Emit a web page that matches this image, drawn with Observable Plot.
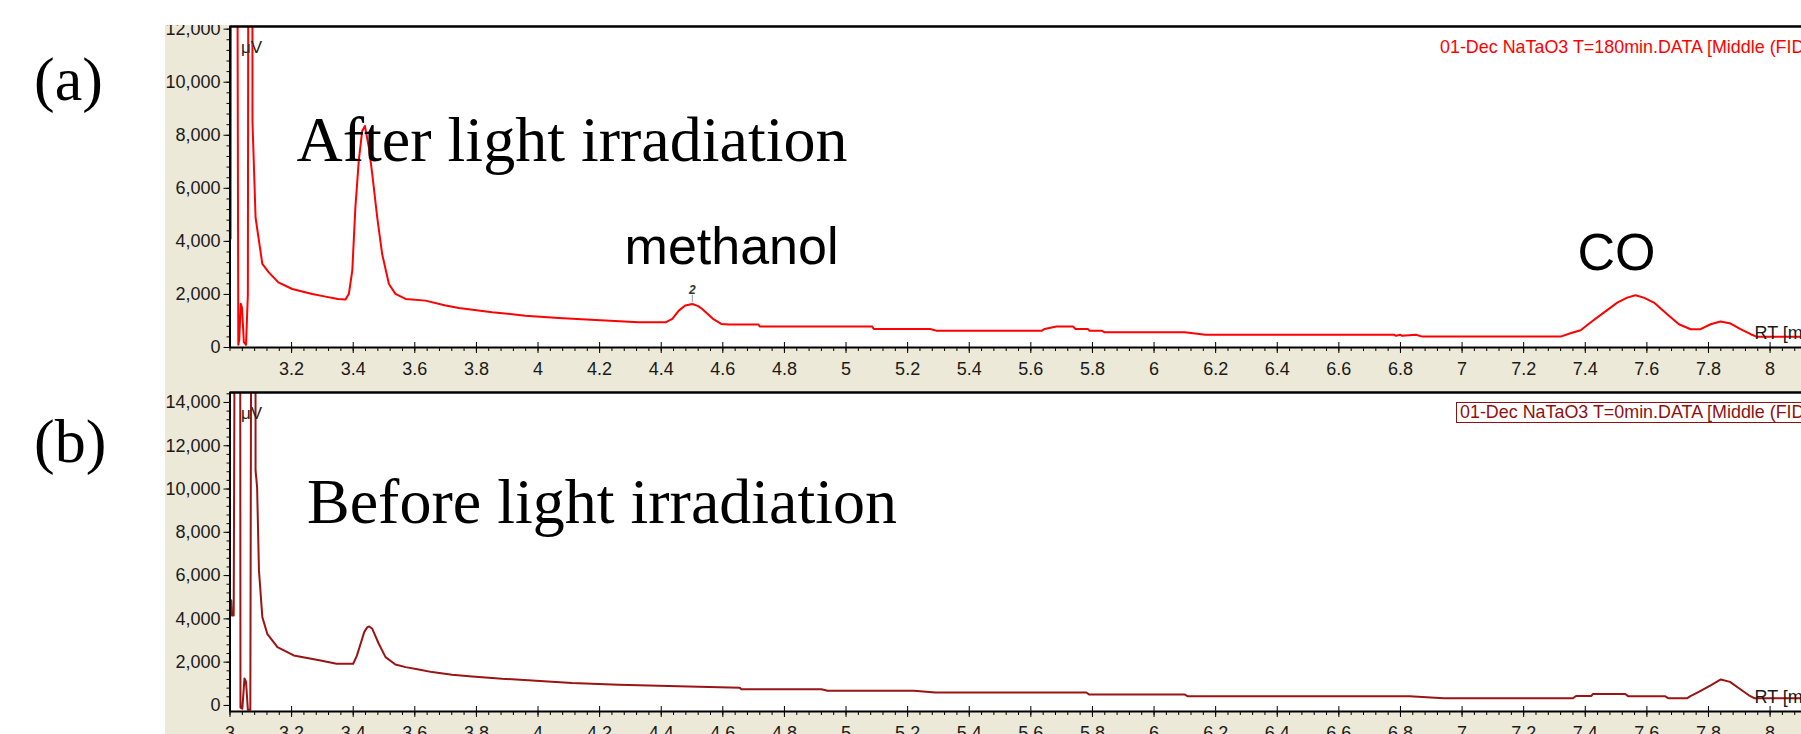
<!DOCTYPE html>
<html><head><meta charset="utf-8">
<script src="https://cdn.jsdelivr.net/npm/d3@7"></script>
<script src="https://cdn.jsdelivr.net/npm/@observablehq/plot@0.6"></script>
<style>
html,body{margin:0;padding:0;background:#fff;}
#wrap{position:relative;width:1801px;height:734px;overflow:hidden;background:#fff;}
#wrap svg{position:absolute;overflow:hidden;}
.panel{position:absolute;font-family:"Liberation Serif","Times New Roman",serif;font-size:62px;line-height:62px;color:#000;}
.file{position:absolute;white-space:nowrap;font-family:"Liberation Sans",Arial,sans-serif;font-size:17.9px;line-height:19px;}
</style></head><body><div id="wrap"></div>
<script>
// ---- data ----
// (a) after light irradiation, T=180 min
const timeA = [3.000,3.002,3.005,3.019,3.027,3.030,3.035,3.039,3.045,3.052,3.058,3.062,3.071,3.073,3.083,3.094,3.105,3.126,3.157,3.202,3.267,3.310,3.350,3.375,3.386,3.397,3.407,3.418,3.429,3.438,3.451,3.462,3.478,3.494,3.516,3.537,3.570,3.635,3.700,3.743,3.851,3.959,4.067,4.187,4.327,4.414,4.436,4.457,4.478,4.501,4.520,4.533,4.568,4.595,4.620,4.716,4.720,5.085,5.090,5.273,5.293,5.636,5.645,5.683,5.737,5.745,5.785,5.790,5.830,5.840,6.100,6.167,6.780,6.785,6.800,6.805,6.850,6.871,7.320,7.352,7.385,7.417,7.460,7.504,7.536,7.563,7.590,7.623,7.666,7.704,7.742,7.774,7.807,7.839,7.872,7.904,7.937,7.958,8.200];
const signalA = [7300,4100,40000,40000,100,300,1650,1500,200,100,2000,40000,40000,8500,4900,4020,3150,2830,2455,2205,2020,1917,1830,1805,2030,2895,5270,7030,8160,8350,7530,6530,4900,3520,2395,2020,1830,1767,1580,1490,1330,1200,1115,1040,950,950,1080,1390,1580,1640,1560,1450,1080,890,865,865,790,790,700,700,635,635,700,790,790,700,700,635,635,572,572,480,480,440,480,440,480,410,410,539,652,940,1316,1692,1880,1967,1880,1692,1253,877,689,689,877,977,902,689,501,401,401];
// (b) before light irradiation, T=0 min
const timeB = [3.000,3.004,3.006,3.012,3.020,3.032,3.034,3.040,3.047,3.052,3.058,3.066,3.072,3.082,3.083,3.088,3.094,3.105,3.121,3.154,3.207,3.294,3.346,3.400,3.412,3.424,3.436,3.446,3.452,3.462,3.483,3.505,3.537,3.570,3.613,3.656,3.721,3.786,3.883,3.981,4.110,4.262,4.489,4.655,4.660,4.920,4.940,5.220,5.290,5.780,5.790,6.100,6.110,6.830,6.940,7.360,7.370,7.420,7.425,7.530,7.540,7.660,7.670,7.730,7.740,7.770,7.810,7.840,7.870,7.900,7.930,7.950,8.200];
const signalB = [4900,4850,4160,4160,40000,40000,-100,-150,1250,1100,-200,-200,40000,40000,10860,10090,6240,4080,3310,2690,2310,2080,1925,1925,2300,2850,3400,3620,3650,3540,2850,2233,1894,1771,1663,1540,1417,1340,1232,1155,1032,955,878,820,750,750,680,680,600,600,500,500,420,420,330,330,440,440,530,530,420,420,330,330,420,640,950,1200,1090,780,480,330,330];

// tick values and labels
const yTicksA = [0,2000,4000,6000,8000,10000,12000];
const yTicksB = [0,2000,4000,6000,8000,10000,12000,14000];
const xTicks = [3,3.2,3.4,3.6,3.8,4,4.2,4.4,4.6,4.8,5,5.2,5.4,5.6,5.8,6,6.2,6.4,6.6,6.8,7,7.2,7.4,7.6,7.8,8];
const fileA = "01-Dec NaTaO3 T=180min.DATA [Middle (FID)]";
const fileB = "01-Dec NaTaO3 T=0min.DATA [Middle (FID)]";
const annotationsA = [
  {t: 3.216, v: 7030, text: "After light irradiation", font: "Liberation Serif", size: 64},
  {t: 4.281, v: 3160, text: "methanol", font: "Liberation Sans", size: 52},
  {t: 7.375, v: 2930, text: "CO", font: "Liberation Sans", size: 52}
];
const annotationsB = [
  {t: 3.25, v: 8410, text: "Before light irradiation", font: "Liberation Serif", size: 64}
];
// integration marker over the methanol peak
const peakMarks = [{t: 4.501, v1: 1700, v2: 1980, label: "2"}];

const dataA = timeA.map((t, i) => ({t, v: signalA[i]}));
const dataB = timeB.map((t, i) => ({t, v: signalB[i]}));

const xDomain = [3, 8.102];
const yDomainA = [0, 12100];
const yDomainB = [-280, 14460];
const beige = "#ECE9D8";
const fmt = d3.format(",");

function minor(lo, hi, step) { return d3.range(Math.round(lo/step), Math.round(hi/step) + 1).map(i => +(i*step).toFixed(4)); }

function panel({data, yDomain, yTicks, yMinorStep, height, marginTop, marginBottom, xLabelTicks, stroke, annotations, markers}) {
  const marks = [
    Plot.frame({fill: "white", stroke: null}),
    Plot.axisY({ticks: minor(0, yDomain[1], yMinorStep).filter(d => d <= yDomain[1]), tickSize: 3, tickFormat: () => "", label: null, stroke: "#000"}),
    Plot.axisY({ticks: yTicks, tickSize: 6, tickPadding: 3.5, tickFormat: fmt, label: null, fontSize: 18, stroke: "#000", fill: "#1a1a1a"}),
    Plot.axisX({ticks: minor(3, 8.1, 0.04), tickSize: 4, tickFormat: () => "", label: null, stroke: "#000"}),
    Plot.axisX({ticks: xLabelTicks, tickSize: 6, tickPadding: 9, tickFormat: d => String(d), label: null, fontSize: 18, stroke: "#000", fill: "#1a1a1a"}),
    Plot.axisX({ticks: xTicks, tickSize: -5, tickFormat: () => "", label: null, stroke: "#000"}),
    Plot.ruleX(markers, {x: "t", y1: "v1", y2: "v2", stroke: "#999", strokeWidth: 1}),
    Plot.text(markers, {x: "t", y: "v2", text: "label", lineAnchor: "bottom", dy: -1, fontSize: 12, fontWeight: "bold", fontStyle: "italic", fill: "#333"}),
    Plot.line(data, {x: "t", y: "v", stroke, strokeWidth: 2, clip: true}),
    Plot.ruleY([yDomain[1]], {stroke: "#000", strokeWidth: 2.5}),
    Plot.ruleY([yDomain[0]], {stroke: "#000", strokeWidth: 2}),
    Plot.ruleX([xDomain[0]], {stroke: "#000", strokeWidth: 2}),
    Plot.text(["μV"], {frameAnchor: "top-left", dx: 11, dy: 14, lineAnchor: "top", textAnchor: "start", fontSize: 17, fill: "#222"}),
    Plot.text(["RT [min]"], {frameAnchor: "bottom-right", dx: -47, dy: -9, lineAnchor: "bottom", textAnchor: "start", fontSize: 18, fill: "#1a1a1a"})
  ];
  for (const a of annotations) {
    marks.push(Plot.text([a], {x: "t", y: "v", text: "text", textAnchor: "start", lineAnchor: "bottom", fontFamily: a.font, fontSize: a.size, fill: "#000"}));
  }
  return Plot.plot({
    width: 1636, height, marginLeft: 64.5, marginRight: 0, marginTop, marginBottom,
    style: {background: beige, fontFamily: "'Liberation Sans', Arial, sans-serif", fontSize: "18px", overflow: "hidden"},
    x: {domain: xDomain},
    y: {domain: yDomain},
    marks
  });
}

const wrap = document.getElementById("wrap");

const chartA = panel({data: dataA, yDomain: yDomainA, yTicks: yTicksA, yMinorStep: 400, height: 365, marginTop: 1, marginBottom: 43,
  xLabelTicks: xTicks.filter(d => d > 3), stroke: "#ff0000", annotations: annotationsA, markers: peakMarks});
chartA.style.left = "165px"; chartA.style.top = "25px";
wrap.appendChild(chartA);

const chartB = panel({data: dataB, yDomain: yDomainB, yTicks: yTicksB, yMinorStep: 400, height: 344, marginTop: 2, marginBottom: 23,
  xLabelTicks: xTicks, stroke: "#9a1414", annotations: annotationsB, markers: []});
chartB.style.left = "165px"; chartB.style.top = "390px";
wrap.appendChild(chartB);

function div(cls, text, css) { const d = document.createElement("div"); d.className = cls; d.textContent = text; Object.assign(d.style, css); wrap.appendChild(d); return d; }
div("panel", "(a)", {left: "34px", top: "48px"});
div("panel", "(b)", {left: "34px", top: "410px"});
div("file", fileA, {left: "1440px", top: "38px", color: "#ff0000"});
div("file", fileB, {left: "1456px", top: "402px", color: "#8e1010", border: "1px solid #8e1010", padding: "0 3px"});
</script></body></html>
